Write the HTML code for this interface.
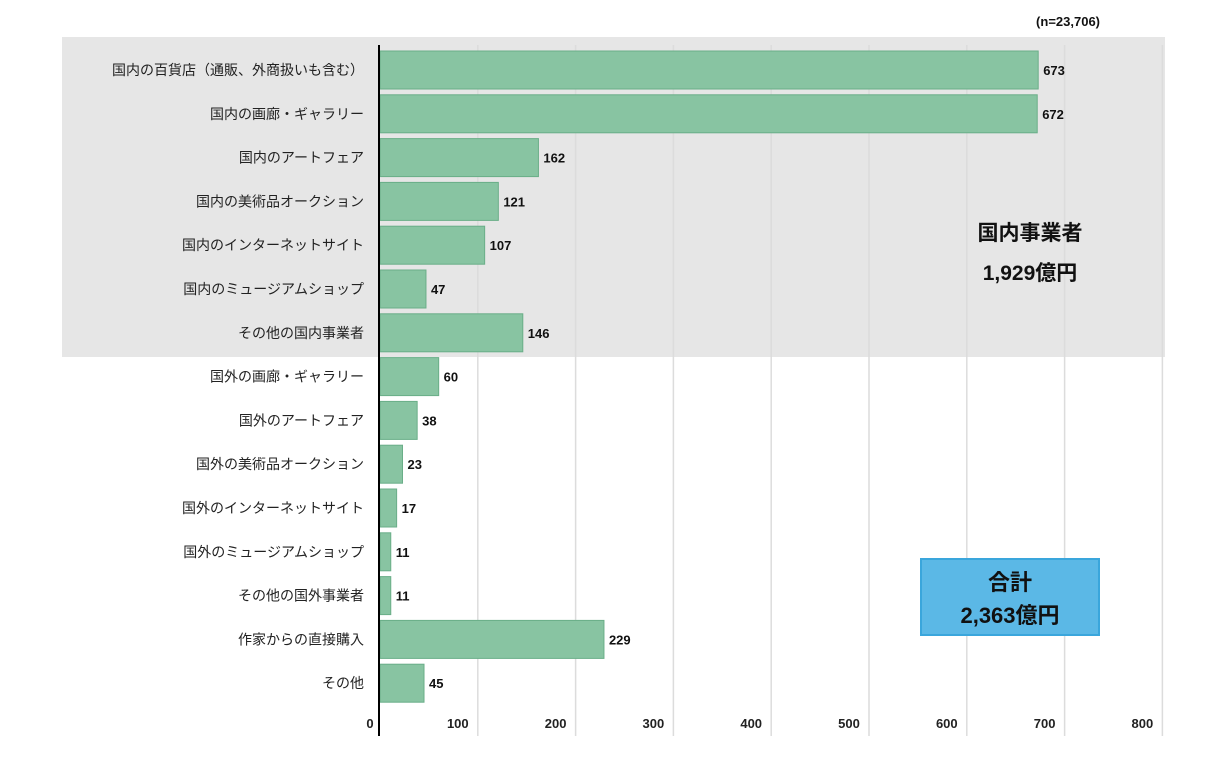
<!DOCTYPE html>
<html><head><meta charset="utf-8"><style>
body{margin:0;background:#fff;}
svg text{font-family:"Liberation Sans","Noto Sans CJK JP",sans-serif;}
</style></head><body>
<svg width="1225" height="760" xmlns="http://www.w3.org/2000/svg">
<rect x="62" y="37" width="1103" height="320" fill="#e6e6e6"/>
<g id="grid"></g>
<g id="bars"></g>
<line x1="379" y1="45" x2="379" y2="736" stroke="#000" stroke-width="2"/>
<text x="1100" y="26" font-size="13" font-weight="bold" text-anchor="end" fill="#111">(n=23,706)</text>
<text x="1030" y="240" font-size="21" font-weight="bold" text-anchor="middle" fill="#111">国内事業者</text>
<text x="1030" y="280" font-size="21" font-weight="bold" text-anchor="middle" fill="#111">1,929億円</text>
<rect x="921" y="559" width="178" height="76" fill="#5bb8e6" stroke="#3aa6dc" stroke-width="2"/>
<text x="1010" y="590" font-size="22" font-weight="bold" text-anchor="middle" fill="#111">合計</text>
<text x="1010" y="623" font-size="22" font-weight="bold" text-anchor="middle" fill="#111">2,363億円</text>
</svg>
<script>
const categories=["国内の百貨店（通販、外商扱いも含む）","国内の画廊・ギャラリー","国内のアートフェア","国内の美術品オークション","国内のインターネットサイト","国内のミュージアムショップ","その他の国内事業者","国外の画廊・ギャラリー","国外のアートフェア","国外の美術品オークション","国外のインターネットサイト","国外のミュージアムショップ","その他の国外事業者","作家からの直接購入","その他"];
const values=[673,672,162,121,107,47,146,60,38,23,17,11,11,229,45];
const ticks=[0,100,200,300,400,500,600,700,800];
const NS="http://www.w3.org/2000/svg";
const x0=380,xs=0.978,y0=70,step=43.8,bh=38;
const xScale=v=>x0+v*xs;
const yScale=i=>y0+i*step;
const grid=document.getElementById('grid'),bars=document.getElementById('bars'),svg=document.querySelector('svg');
function mk(t,a,p){const e=document.createElementNS(NS,t);for(const k in a)e.setAttribute(k,a[k]);p.appendChild(e);return e;}
ticks.forEach(t=>{
  if(t>0){const l=mk('line',{x1:xScale(t),x2:xScale(t),y1:45,y2:736,stroke:'#dcdcdc','stroke-width':1.5},grid);
  
  }
  const tx=mk('text',{x:xScale(t)-(t===0?10:20),y:728,'font-size':13,'font-weight':'bold','text-anchor':'middle',fill:'#222'},svg);
  tx.textContent=t;
  
  
});
categories.forEach((c,i)=>{
  const y=yScale(i);
  const r=mk('rect',{x:x0,y:y-bh/2,width:xScale(values[i])-x0,height:bh,fill:'#88c4a2',stroke:'#6aae88','stroke-width':1},bars);
  
  
  const v=mk('text',{x:xScale(values[i])+5,y:y+5,'font-size':13,'font-weight':'bold',fill:'#111'},svg);
  v.textContent=values[i];
  
  
  const l=mk('text',{x:364,y:y+5,'font-size':14,'text-anchor':'end',fill:'#222'},svg);
  l.textContent=c;
  
  
});
</script>
</body></html>
